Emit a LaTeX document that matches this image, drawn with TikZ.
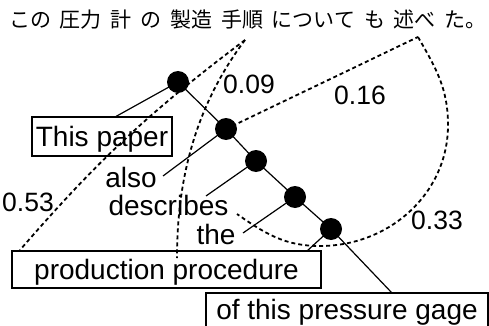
\documentclass[tikz,border=0pt]{standalone}
\usepackage{fontspec}
\setmainfont{Liberation Sans}
\newfontfamily\jafont{Noto Sans CJK JP}
\begin{document}
\begin{tikzpicture}[x=1pt,y=-1pt,
  word/.style={font=\fontsize{28}{30}\selectfont, inner sep=0pt, anchor=base},
  num/.style={font=\fontsize{26.5}{28}\selectfont, inner sep=0pt, anchor=base},
  wbox/.style={draw, line width=1.2pt, font=\fontsize{28}{30}\selectfont, inner sep=0pt},
  dot/.style={circle, fill=black, minimum size=22pt, inner sep=0pt},
  tree/.style={line width=1.2pt},
  alignline/.style={line width=1.8pt, dash pattern=on 4pt off 3pt},
]
\useasboundingbox (0,0) rectangle (489,326);
\clip (0,0) rectangle (489,326);

% Japanese sentence
\node[inner sep=0pt, anchor=west, font=\jafont\fontsize{21}{23}\selectfont] (ja) at (9,20)
  {この\hspace{8.8pt}圧力\hspace{8.8pt}計\hspace{8.8pt}の\hspace{8.8pt}製造\hspace{8.8pt}手順\hspace{8.8pt}について\hspace{8.8pt}も\hspace{8.8pt}述べ\hspace{8.8pt}た。};
\coordinate (jTe) at (245,40);
\coordinate (jNo) at (418,37);

% boxes
\node[wbox, minimum width=140pt, minimum height=39pt, text height=24pt, text depth=5pt] (box1) at (102,136.5) {This paper};
\node[wbox, minimum width=309pt, minimum height=37pt, text height=26pt, text depth=6pt] (box2) at (166.5,269.5) {production procedure};
\node[wbox, minimum width=282pt, minimum height=38pt, text height=20pt, text depth=6pt] (box3) at (347,312) {of this pressure gage};

% words
\node[word] (also) at (131,187) {also};
\node[word] (desc) at (168.5,215) {describes};
\node[word] (the) at (216,244) {the};

% numbers
\node[num] (l09) at (249,93) {0.09};
\node[num] (l16) at (360,105) {0.16};
\node[num] (l53) at (28,211) {0.53};
\node[num] (l33) at (437,229) {0.33};

% dots
\coordinate (c1) at (178,82);
\coordinate (c2) at (226,129);
\coordinate (c3) at (256,161);
\coordinate (c4) at (295,197);
\coordinate (c5) at (331,229);

% connector end points
\coordinate (t1) at (115,117);
\coordinate (t2) at (163,176);
\coordinate (t3) at (206,196);
\coordinate (t4) at (243,233);
\coordinate (t5) at (307,251);
\coordinate (t6) at (392,293);
\coordinate (p1) at (20,250);
\coordinate (p2) at (177,258);
\coordinate (d1) at (237,214);

% dashed alignments
\draw[alignline] (jTe) to[bend right=6] (p1);
\draw[alignline] (jTe) .. controls (200,100) and (177,170) .. (p2);
\draw[alignline] (c2) -- (jNo);
\draw[alignline] (jNo) to[out=-60,in=90] (448,125) to[out=-90,in=0] (320,246) to[out=180,in=-35] (d1);

% tree
\draw[tree] (c1) -- (c2) -- (c3) -- (c4) -- (c5) -- (t6);
\draw[tree] (c1) -- (t1);
\draw[tree] (c2) -- (t2);
\draw[tree] (c3) -- (t3);
\draw[tree] (c4) -- (t4);
\draw[tree] (c5) -- (t5);

\node[dot] (n1) at (c1) {};
\node[dot] (n2) at (c2) {};
\node[dot] (n3) at (c3) {};
\node[dot] (n4) at (c4) {};
\node[dot] (n5) at (c5) {};
\end{tikzpicture}
\end{document}
